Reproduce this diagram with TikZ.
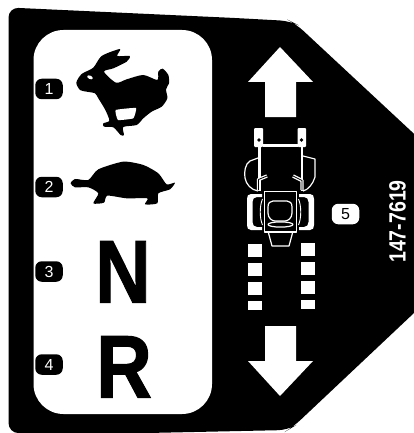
\documentclass[tikz,border=0pt]{standalone}
\usepackage{fontspec}
\setmainfont{Liberation Sans}
\newfontfamily\heavyfont[UprightFont={* Bold},UprightFeatures={FakeBold=1.2}]{Liberation Sans}
\tikzset{
  badge/.style={fill=black,rounded corners=6.5pt,minimum width=27.5pt,minimum height=20.5pt,inner sep=0pt,text=white,font=\fontsize{16}{16}\selectfont},
  badgew/.style={fill=white,rounded corners=6.5pt,minimum width=27.5pt,minimum height=20.5pt,inner sep=0pt,text=black,font=\fontsize{16}{16}\selectfont},
  big/.style={inner sep=0pt,font=\fontsize{89}{89}\heavyfont},
  tl/.style={draw=white,line width=1.2pt,line join=round,fill=none},
  tire/.style={fill=white},
  dashblock/.style={fill=white}
}
\begin{document}
\begin{tikzpicture}[x=1pt,y=-1pt]
\useasboundingbox (0,0) rectangle (414,433);
\clip (0,0) rectangle (414,433);
% plate
\fill[black,rounded corners=10pt] (8.5,7.5) -- (235,18) -- (290,21) -- (296,24) -- (440,158) -- (440,288.5) -- (293,427) -- (288,430) -- (100,434) -- (8.5,433) -- cycle;
% panel
\fill[white,rounded corners=30pt] (33.5,30) rectangle (212,414);
% rabbit
\begin{scope}[shift={(30,30)},x=.3333pt,y=-.3333pt]
\fill[black] plot[smooth cycle,tension=.45] coordinates {(139,158)(155,132)(190,113)(215,78)(270,57)(262,78)(299,78)(290,95)(250,115)(222,125)(258,158)(290,148)(340,135)(382,150)(385,125)(398,116)(415,135)(417,160)(408,178)(412,205)(395,230)(365,245)(340,265)(320,285)(280,291)(282,315)(272,315)(250,292)(222,290)(220,280)(238,272)(226,240)(205,205)(195,190)(170,185)(150,180)};
\fill[white] plot[smooth cycle,tension=.2] coordinates {(257,240)(318,234)(310,265)(264,270)};
\fill[white,rotate around={-25:(180,142)}] (180,142) ellipse (9 and 5);
% turtle
\fill[black] plot[smooth cycle,tension=.4] coordinates {(122,460)(135,447)(175,450)(205,418)(280,395)(340,405)(385,430)(410,463)(435,458)(420,478)(385,490)(382,520)(345,523)(352,505)(290,505)(232,497)(222,518)(190,520)(205,490)(175,472)(135,472)};
\end{scope}
% letters
\node[big,anchor=base] (n) at (123,302.5) {\scalebox{.87}[1]{N}};
\node[big,anchor=base] (r) at (124,397.5) {\scalebox{.87}[1]{R}};
% badges
\node[badge] (b1) at (49,89) {1};
\node[badge] (b2) at (49,187) {2};
\node[badge] (b3) at (49,271.5) {3};
\node[badge] (b4) at (49,364.5) {4};
\node[badgew] (b5) at (345.5,214) {5};
% arrows
\fill[white] (280,47) -- (313,82) -- (296,82) -- (296,117) -- (265,117) -- (265,82) -- (248,82) -- cycle;
\fill[white] (280,396) -- (313,361) -- (296,361) -- (296,326) -- (265,326) -- (265,361) -- (248,361) -- cycle;
% track blocks
\fill[dashblock] (248,244) rectangle (262,257);
\fill[dashblock] (248,263) rectangle (262,276);
\fill[dashblock] (248,282) rectangle (262,295);
\fill[dashblock] (248,301) rectangle (262,310);
\fill[dashblock] (301,243) rectangle (315,256);
\fill[dashblock] (301,262) rectangle (315,275);
\fill[dashblock] (301,281) rectangle (315,294);
\fill[dashblock] (301,300) rectangle (315,309);
% tractor
\fill[white,rounded corners=1pt] (254,128) rectangle (263,147);
\fill[white,rounded corners=1pt] (297.5,128) rectangle (306,147);
\fill[black] (259,140) circle (1.8);
\fill[black] (301.5,140) circle (1.8);
\fill[white] (263,143.5) rectangle (298,147);
\fill[white] (258,147) rectangle (260.5,191);
\fill[white] (300.5,147) rectangle (303,191);
\draw[tl] (258,158) -- (250,161) .. controls (245,164) and (244,172) .. (245,178) .. controls (246,184) and (251,190) .. (258,191);
\draw[tl] (303,156) -- (315,159) -- (315,177) .. controls (313,184) and (308,190) .. (303,191);
% levers
\draw[white,line width=3.4pt,line join=round] (267,176) -- (258.5,179.5) -- (258.5,190);
\draw[black,line width=.8pt,line join=round] (267,176) -- (258.5,179.5) -- (258.5,190);
\draw[white,line width=3.4pt,line join=round] (293,176) -- (302,180.5) -- (302,190);
\draw[black,line width=.8pt,line join=round] (293,176) -- (302,180.5) -- (302,190);
% tires
\fill[tire] (262,194) -- (251,194) .. controls (248,194) and (247,196) .. (247,199) -- (247,225) .. controls (247,228) and (248,230) .. (251,230) -- (262,230) -- (262,227) -- (257,227) .. controls (254,227) and (252.5,225) .. (252.5,222) -- (252.5,202) .. controls (252.5,199) and (254,197) .. (257,197) -- (262,197) -- cycle;
\fill[tire] (299,194) -- (310,194) .. controls (313,194) and (314,196) .. (314,199) -- (314,225) .. controls (314,228) and (313,230) .. (310,230) -- (299,230) -- (299,227) -- (304,227) .. controls (307,227) and (308.5,225) .. (308.5,222) -- (308.5,202) .. controls (308.5,199) and (307,197) .. (304,197) -- (299,197) -- cycle;
\draw[white,line width=.9pt] (262.5,199) .. controls (259.5,206) and (259.5,218) .. (262.5,225);
\draw[white,line width=.9pt] (298.5,199) .. controls (301.5,206) and (301.5,218) .. (298.5,225);
% platform
\fill[black] (263,191) rectangle (298,233);
\draw[tl] (264.5,191.5) rectangle (296.5,232);
% seat
\draw[tl] (273,201) -- (287,201) .. controls (290,201) and (292,203) .. (292,207) -- (292,213) .. controls (292,218) and (288,221) .. (285,221) -- (275,221) .. controls (272,221) and (268,218) .. (268,213) -- (268,207) .. controls (268,203) and (270,201) .. (273,201) -- cycle;
\draw[tl] (280.5,224.5) ellipse (12.5 and 2.6);
\draw[tl] (268.5,233) -- (272,246) -- (289,246) -- (292.5,233);
% code
\node[rotate=90,inner sep=0pt,text=white] (code) at (397.5,221.5) {\scalebox{.83}[1]{\fontsize{23.5}{24}\selectfont\bfseries 147-7619}};
\end{tikzpicture}
\end{document}
